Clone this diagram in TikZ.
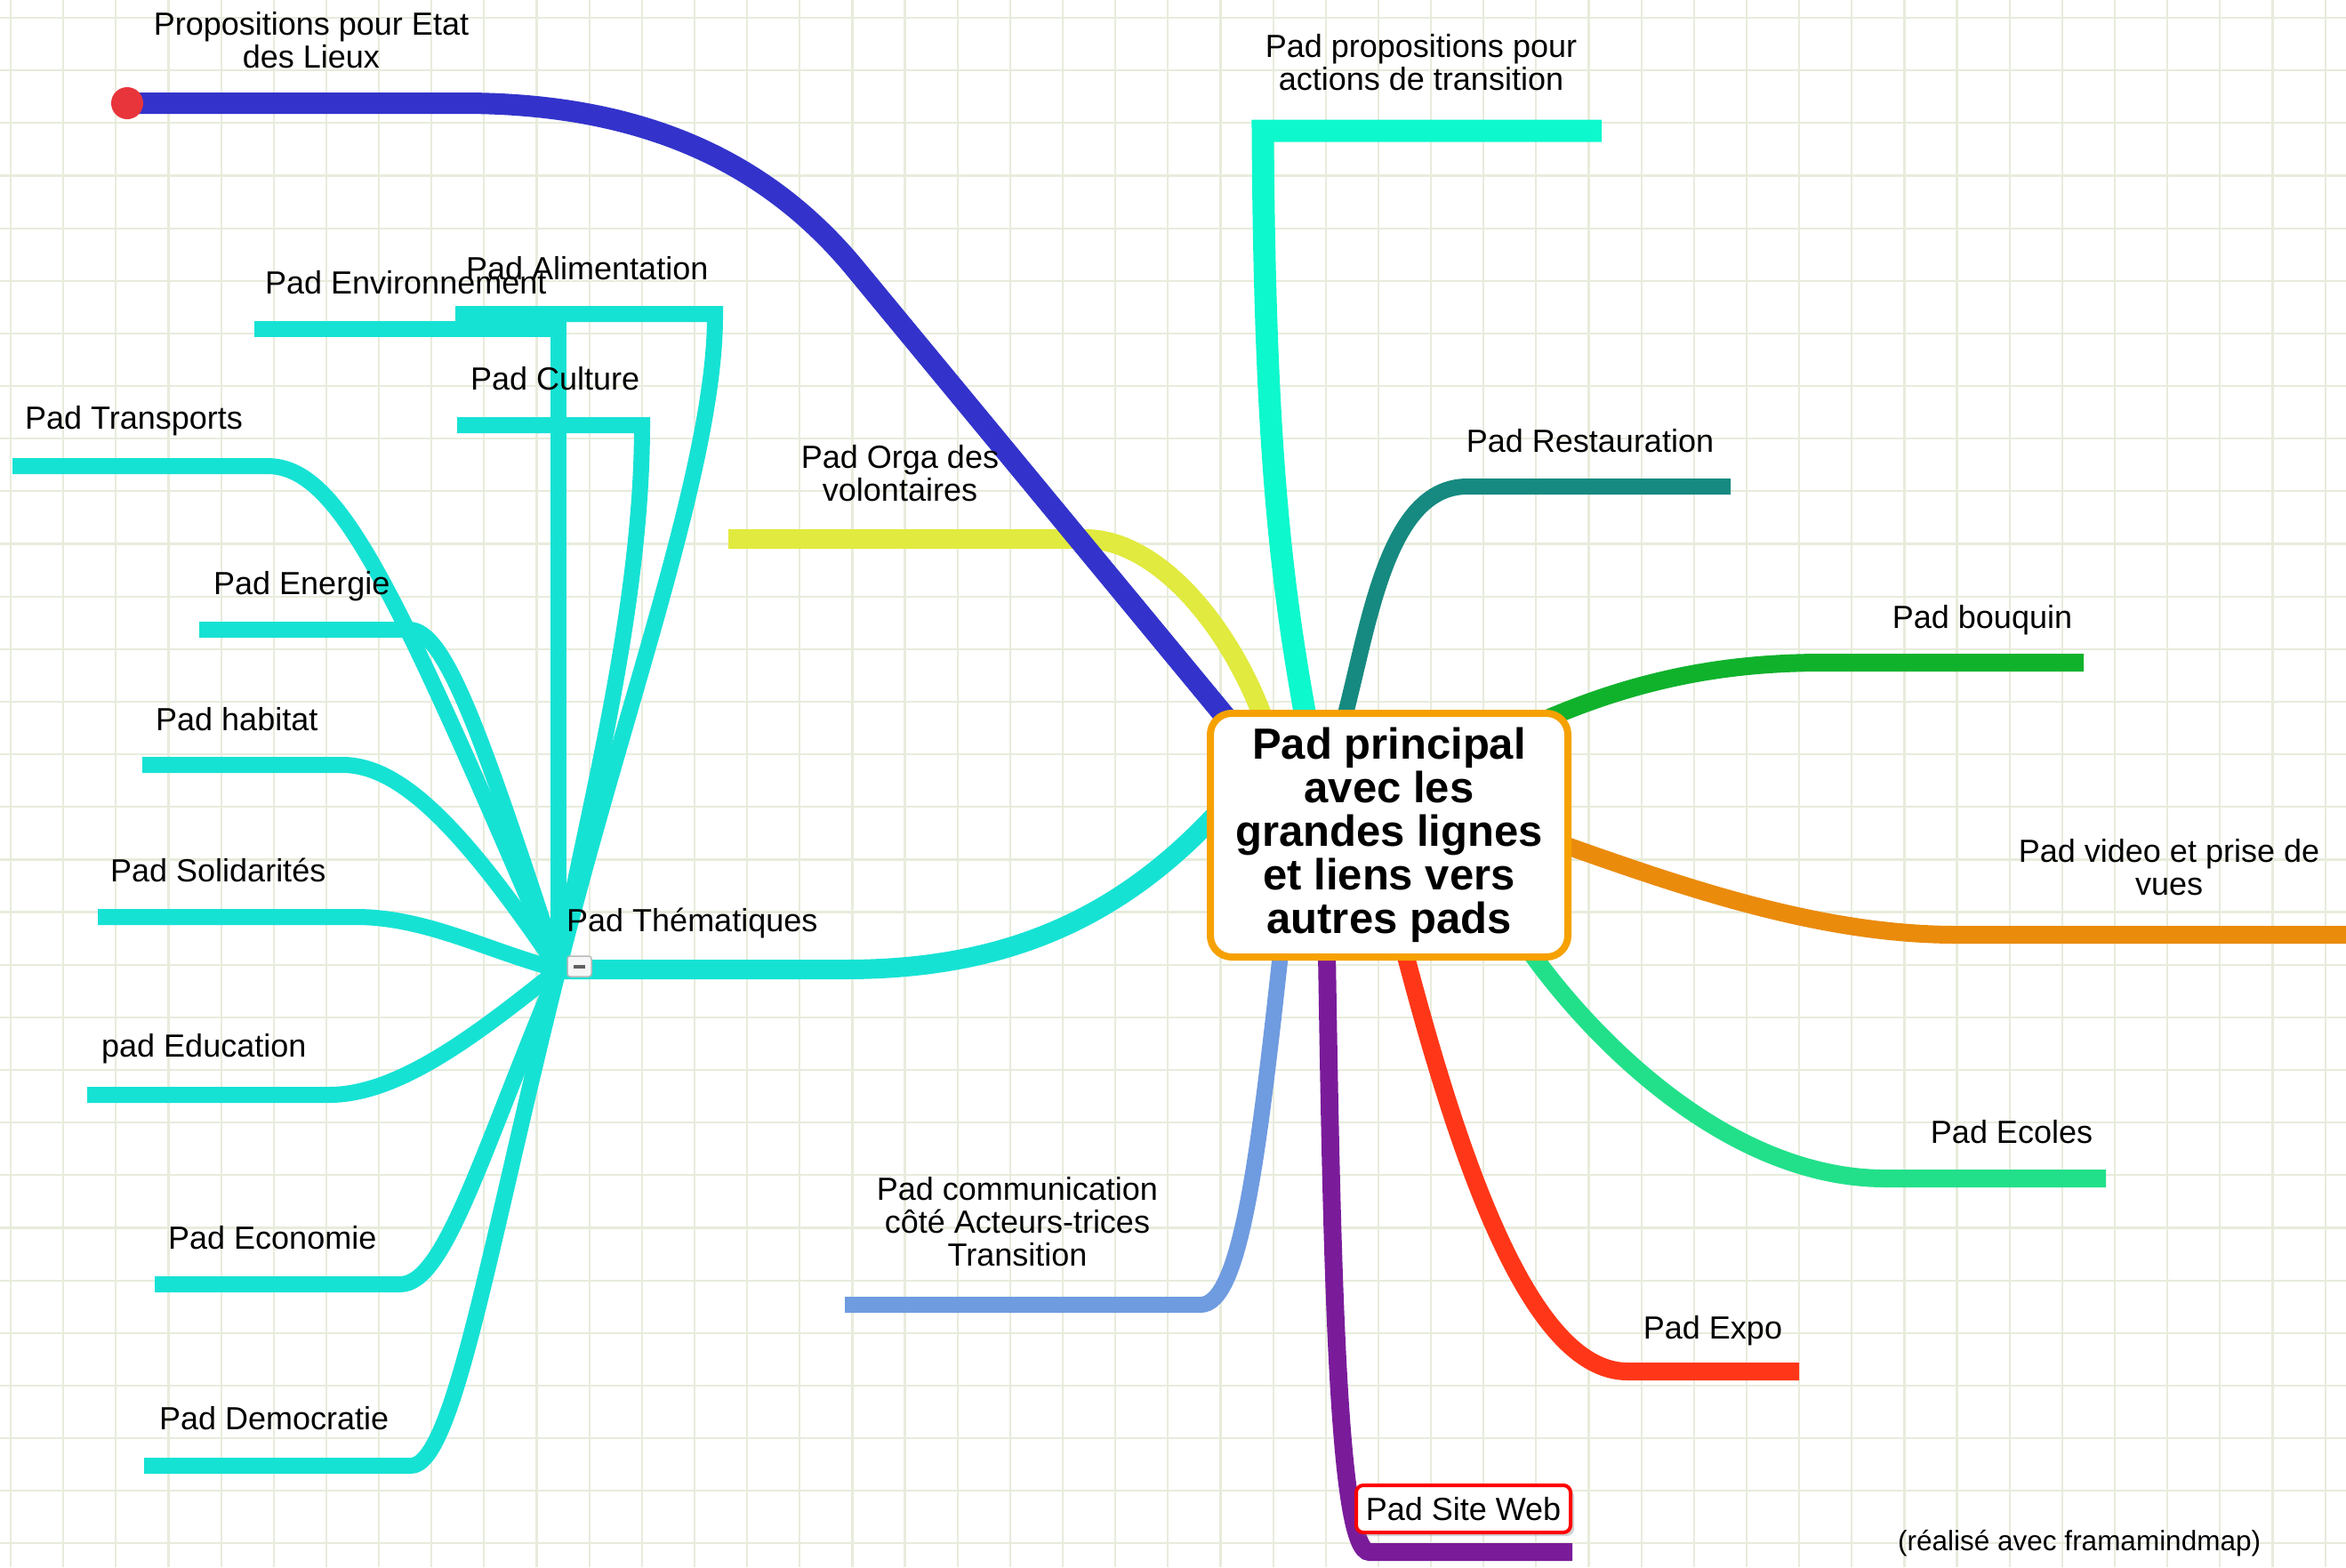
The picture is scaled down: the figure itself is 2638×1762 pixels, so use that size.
\documentclass[tikz,border=0pt]{standalone}
\usepackage{fontspec}
\setmainfont{Liberation Sans}
\usetikzlibrary{positioning, shadows}

\definecolor{gridline}{HTML}{E7ECDC}
\definecolor{lieuxblue}{HTML}{3333CC}
\definecolor{dotred}{HTML}{E8353B}
\definecolor{aqua}{HTML}{0DF8CC}
\definecolor{teal}{HTML}{168A80}
\definecolor{leafgreen}{HTML}{10B22C}
\definecolor{videoorange}{HTML}{EA8B0C}
\definecolor{mint}{HTML}{22E08A}
\definecolor{expored}{HTML}{FF3718}
\definecolor{webpurple}{HTML}{7A1C9A}
\definecolor{skyblue}{HTML}{6F9BE0}
\definecolor{thema}{HTML}{16E2D4}
\definecolor{orgayellow}{HTML}{E1EA3E}
\definecolor{mainorange}{HTML}{F6A100}

\pgfdeclarelayer{grid}
\pgfdeclarelayer{branches}
\pgfsetlayers{grid,branches,main}

\tikzset{
    branch/.style = {
        draw,
        line width=22pt,
        line cap=butt
    },
    subbranch/.style = {
        draw,
        thema,
        line width=18pt,
        line cap=butt
    },
    padlabel/.style = {
        inner sep=0pt,
        align=center,
        font=\fontsize{36}{37}\selectfont
    }
}

\begin{document}
\begin{tikzpicture}[
    x=1pt, y=-1pt,
    mainpad/.style={rectangle, draw=mainorange, line width=8pt, fill=white, rounded corners=24pt, minimum width=402pt, minimum height=274pt, inner sep=0pt, align=center, font=\fontsize{49}{49}\selectfont\bfseries},
    webbox/.style={rectangle, draw=red, line width=4pt, fill=white, rounded corners=8pt, minimum width=241pt, minimum height=53pt, inner sep=0pt, font=\fontsize{36}{37}\selectfont, drop shadow={shadow xshift=4pt, shadow yshift=-4pt, opacity=0.35}},
    minusbox/.style={rectangle, draw=gray!55, fill=gray!6, line width=1.5pt, rounded corners=3pt, minimum width=27pt, minimum height=23pt, inner sep=0pt}
]

\useasboundingbox (0,0) rectangle (2638,1762);

% Squared paper
\begin{pgfonlayer}{grid}
\fill[white] (0,0) rectangle (2638,1762);
\foreach \i in {0,...,44}
    \draw[gridline, line width=2.2pt] (12+59.15*\i,0) -- (12+59.15*\i,1762);
\foreach \j in {0,...,29}
    \draw[gridline, line width=2.2pt] (0,20+59.15*\j) -- (2638,20+59.15*\j);
\end{pgfonlayer}

% Main node
\node [mainpad] (main) at (1562,939) {Pad principal\\avec les\\grandes lignes\\et liens vers\\autres pads};

% Branch ends
\node [circle, fill=dotred, minimum size=36pt, inner sep=0pt] (lieux-dot) at (143,116) {};
\coordinate (transition-end) at (1801,147);
\coordinate (restau-end) at (1946,547);
\coordinate (bouquin-end) at (2343,745);
\coordinate (video-end) at (2638,1051);
\coordinate (ecoles-end) at (2368,1325);
\coordinate (expo-end) at (2023,1542);
\coordinate (web-end) at (1768,1745);
\coordinate (comm-end) at (950,1467);
\coordinate (orga-end) at (819,606);
\coordinate (hub) at (628,1090);

% Thematic ends
\coordinate (env-end) at (286,370);
\coordinate (ali-end) at (512,353);
\coordinate (cul-end) at (514,478);
\coordinate (transports-end) at (14,524);
\coordinate (energie-end) at (224,708);
\coordinate (habitat-end) at (160,860);
\coordinate (solid-end) at (110,1031);
\coordinate (educ-end) at (98,1231);
\coordinate (econ-end) at (174,1444);
\coordinate (demo-end) at (162,1648);

\begin{pgfonlayer}{branches}
% Top branches
\draw [branch, orgayellow] (orga-end) -- (1220,606) .. controls (1300,606) and (1380,700) .. ([shift={(63,8)}]main.north west);
\draw [branch, lieuxblue, line width=24pt] (lieux-dot.center) -- (520,116) .. controls (720,116) and (860,180) .. (960,300) -- ([shift={(21,8)}]main.north west);
\draw [branch, aqua, line width=25pt] (transition-end) -- (1420,147) .. controls (1422,500) and (1440,650) .. ([shift={(111,8)}]main.north west);
\draw [branch, teal, line width=18pt] ([shift={(155,8)}]main.north west) .. controls (1540,700) and (1560,547) .. (1650,547) -- (restau-end);

% Right branches
\draw [branch, leafgreen, line width=20pt] ([shift={(-32,12)}]main.north east) .. controls (1850,760) and (1950,745) .. (2050,745) -- (bouquin-end);
\draw [branch, videoorange, line width=20pt] ([shift={(-8,11)}]main.east) .. controls (1900,1000) and (2050,1051) .. (2200,1051) -- (video-end);
\draw [branch, mint, line width=20pt] ([shift={(-45,-8)}]main.south east) .. controls (1800,1180) and (1950,1325) .. (2120,1325) -- (ecoles-end);

% Bottom branches
\draw [branch, expored, line width=20pt] ([shift={(18,-8)}]main.south) .. controls (1640,1300) and (1720,1542) .. (1830,1542) -- (expo-end);
\draw [branch, webpurple, line width=20pt] ([shift={(-70,-8)}]main.south) .. controls (1498,1450) and (1505,1745) .. (1540,1745) -- (web-end);
\draw [branch, skyblue, line width=18pt] ([shift={(-122,-8)}]main.south) .. controls (1415,1300) and (1395,1467) .. (1350,1467) -- (comm-end);

% Thematiques branch
\draw [branch, thema] ([shift={(8,-21)}]main.west) .. controls (1250,1040) and (1120,1090) .. (950,1090) -- (hub);
\draw [subbranch] (env-end) -| (hub);
\draw [subbranch] (ali-end) -- (804,353) .. controls (805,520) and (700,800) .. (hub);
\draw [subbranch] (cul-end) -- (722,478) .. controls (722,700) and (650,950) .. (hub);
\draw [subbranch] (transports-end) -- (300,524) .. controls (380,524) and (440,650) .. (hub);
\draw [subbranch] (energie-end) -- (460,708) .. controls (500,708) and (540,820) .. (hub);
\draw [subbranch] (habitat-end) -- (385,860) .. controls (450,860) and (520,930) .. (hub);
\draw [subbranch] (solid-end) -- (400,1031) .. controls (480,1031) and (550,1070) .. (hub);
\draw [subbranch] (educ-end) -- (370,1231) .. controls (450,1231) and (540,1160) .. (hub);
\draw [subbranch] (econ-end) -- (450,1444) .. controls (500,1444) and (540,1300) .. (hub);
\draw [subbranch] (demo-end) -- (462,1648) .. controls (510,1648) and (550,1400) .. (hub);
\end{pgfonlayer}

% Labels, top
\node [padlabel] (lieux) at (350,45.5) {Propositions pour Etat\\des Lieux};
\node [padlabel] (transition) at (1598,70.5) {Pad propositions pour\\actions de transition};
\node [padlabel] (orga) at (1012,532) {Pad Orga des\\volontaires};
\node [padlabel, anchor=base] (restau) at (1788,508) {Pad Restauration};

% Labels, right
\node [padlabel, anchor=base] (bouquin) at (2229,706) {Pad bouquin};
\node [padlabel] (video) at (2439,975.5) {Pad video et prise de\\vues};
\node [padlabel, anchor=base] (ecoles) at (2262,1285) {Pad Ecoles};
\node [padlabel, anchor=base] (expo) at (1926,1505) {Pad Expo};

% Labels, bottom
\node [webbox] (web) at (1645.5,1696.5) {Pad Site Web};
\node [padlabel] (comm) at (1144,1374) {Pad communication\\côté Acteurs-trices\\Transition};

% Labels, thematic pads
\node [padlabel, anchor=base west] (thematiques) at (637,1047) {Pad Thématiques};
\node [minusbox] (toggle) at (651.5,1086.5) {\textcolor{gray!75!black}{\rule[-2pt]{13pt}{4pt}}};
\node [padlabel, anchor=base west] (env) at (298,330) {Pad Environnement};
\node [padlabel, anchor=base west] (ali) at (524,314) {Pad Alimentation};
\node [padlabel, anchor=base west] (cul) at (529,438) {Pad Culture};
\node [padlabel, anchor=base west] (transports) at (28,482) {Pad Transports};
\node [padlabel, anchor=base west] (energie) at (240,668) {Pad Energie};
\node [padlabel, anchor=base west] (habitat) at (175,821) {Pad habitat};
\node [padlabel, anchor=base west] (solid) at (124,991) {Pad Solidarités};
\node [padlabel, anchor=base west] (educ) at (114,1188) {pad Education};
\node [padlabel, anchor=base west] (econ) at (189,1404) {Pad Economie};
\node [padlabel, anchor=base west] (demo) at (179,1607) {Pad Democratie};

% Credit
\node [padlabel, font=\fontsize{31.5}{33}\selectfont, anchor=base west] (credit) at (2134,1743) {(réalisé avec framamindmap)};

\end{tikzpicture}
\end{document}
